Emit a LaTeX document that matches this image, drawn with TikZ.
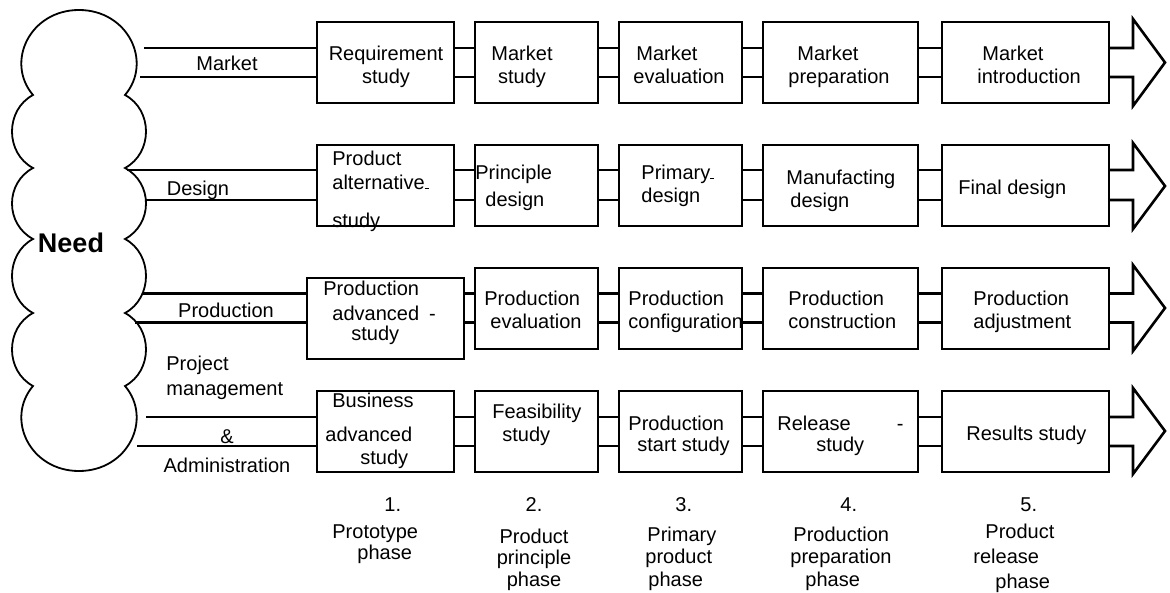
\documentclass[tikz,border=0pt]{standalone}
\usepackage{fontspec}
\setmainfont{Liberation Sans}
\begin{document}
\begin{tikzpicture}[x=0.5pt,y=-0.5pt,line join=miter,
	font=\fontsize{10}{11.5}\selectfont,
	box/.style={draw,line width=0.8pt,inner sep=0pt,minimum height=40.5pt},
	txt/.style={inner sep=0pt,align=left,anchor=north west},
	lbl/.style={inner sep=0pt,align=center,anchor=north},
	bus/.style={line width=1.3pt}]
	\useasboundingbox (0,0) rectangle (1170,593);
	% the cloud
	\draw[line width=0.9pt] (33,95) .. controls (5,62) and (30,10) .. (79,10)
		.. controls (128,10) and (153,62) .. (125,95)
		.. controls (153,110) and (153,153) .. (125,168)
		.. controls (153,183) and (153,224) .. (125,239)
		.. controls (153,254) and (153,298) .. (125,313)
		.. controls (153,328) and (153,371) .. (125,386)
		.. controls (153,419) and (128,471) .. (79,471)
		.. controls (30,471) and (5,419) .. (33,386)
		.. controls (5,371) and (5,328) .. (33,313)
		.. controls (5,298) and (5,254) .. (33,239)
		.. controls (5,224) and (5,183) .. (33,168)
		.. controls (5,153) and (5,110) .. cycle;
	\node[font=\fontsize{13.5}{16}\selectfont\bfseries] (need) at (71,243) {Need};
	% where the double lines leave the cloud
	\coordinate (top1) at (144,48);   \coordinate (bot1) at (140,77);
	\coordinate (top2) at (127,170);  \coordinate (bot2) at (146,200);
	\coordinate (top3) at (142,293.5);\coordinate (bot3) at (135,322.5);
	\coordinate (top4) at (146,417);  \coordinate (bot4) at (137,446);
	% boxes
	\foreach \r/\y in {1/62.5,2/185.5,4/431.5}{
		\node[box,minimum width=68.5pt] (b\r1) at (385.5,\y) {};
		\node[box,minimum width=61.5pt] (b\r2) at (536.5,\y) {};
		\node[box,minimum width=61.5pt] (b\r3) at (680.5,\y) {};
		\node[box,minimum width=77.5pt] (b\r4) at (840.5,\y) {};
		\node[box,minimum width=83.5pt] (b\r5) at (1025.5,\y) {};
	}
	\node[box,minimum width=78.5pt] (b31) at (385.5,318.5) {};
	\node[box,minimum width=61.5pt] (b32) at (536.5,308.5) {};
	\node[box,minimum width=61.5pt] (b33) at (680.5,308.5) {};
	\node[box,minimum width=77.5pt] (b34) at (840.5,308.5) {};
	\node[box,minimum width=83.5pt] (b35) at (1025.5,308.5) {};
	% double lines
	\foreach \r in {1,...,4}{
		\draw[bus] (top\r) -- (b\r1.west |- top\r);
		\draw[bus] (bot\r) -- (b\r1.west |- bot\r);
		\foreach \a/\b in {1/2,2/3,3/4,4/5}{
			\draw[bus] (b\r\a.east |- top\r) -- (b\r\b.west |- top\r);
			\draw[bus] (b\r\a.east |- bot\r) -- (b\r\b.west |- bot\r);
		}
	}
	% arrows at the right
	\foreach \r/\ya/\yb/\yt/\ym/\yh in {1/48/77/19/62.5/106,2/170/200/143/186/229,3/293.5/322.5/265/308/351,4/417/446/388/431/474}
		\draw[bus] (b\r5.east |- top\r) -- (1133,\ya) -- (1133,\yt) -- (1165,\ym) -- (1133,\yh) -- (1133,\yb) -- (b\r5.east |- bot\r);
	% row labels
	\node[lbl] (lmarket) at (227,55.5) {Market};
	\node[lbl] (ldesign) at (198,180.5) {Design};
	\node[lbl] (lprod) at (226,302.5) {Production};
	\node[txt] (lproj) at (166,355.5) {Project\\[1pt]management};
	\node[lbl] (land) at (227,429.5) {\&};
	\node[lbl] (ladmin) at (227,457.5) {Administration};
	% texts in the boxes
	\node[lbl] (t11) at (386,45.5) {Requirement\\study};
	\node[lbl] (t12) at (522,45.5) {Market\\study};
	\node[txt] (t13) at (633,45.5) {\hspace*{1.5pt}Market\\evaluation};
	\node[txt] (t14) at (788,45.5) {\hspace*{4.5pt}Market\\preparation};
	\node[txt] (t15) at (977,45.5) {\hspace*{2.5pt}Market\\introduction};
	\node[txt] (t21) at (332,150.5) {Product\\[0.5pt]alternative\rule{2pt}{0.5pt}\\[7.5pt]study};
	\node[txt] (t22) at (475,164.5) {Principle\\[2pt]\hspace*{5pt}design};
	\node[txt] (t23) at (641,164.5) {Primary\rule{2pt}{0.5pt}\\design};
	\node[txt] (t24) at (786,169.5) {Manufacting\\\hspace*{2pt}design};
	\node[txt] (t25) at (958,179.5) {Final design};
	\node[txt] (t31) at (323,280.5) {Production\\[1pt]\hspace*{4.5pt}advanced\hspace{5pt}-\\[-1.5pt]\hspace*{14pt}study};
	\node[txt] (t32) at (484,290.5) {Production\\\hspace*{3pt}evaluation};
	\node[txt] (t33) at (628,290.5) {Production\\configuration};
	\node[txt] (t34) at (788,290.5) {Production\\construction};
	\node[txt] (t35) at (973,290.5) {Production\\adjustment};
	\node[txt] (t41) at (325,392.5) {\hspace*{3.5pt}Business\\[5.5pt]advanced\\\hspace*{17.5pt}study};
	\node[txt] (t42) at (492,403.5) {Feasibility\\\hspace*{5pt}study};
	\node[txt] (t43) at (628,415.5) {Production\\[-1pt]\hspace*{4.5pt}start study};
	\node[txt] (t44) at (777,415.5) {Release\hspace{23pt}-\\[-1pt]\hspace*{19.5pt}study};
	\node[txt] (t45) at (966,425.5) {Results study};
	% phases
	\node[txt] (p1) at (332,497.5) {\hspace*{26pt}1.\\[2pt]Prototype\\[-1pt]\hspace*{12.5pt}phase};
	\node[lbl] (p2) at (534,497.5) {2.\\[4.5pt]Product\\[-1pt]principle\\[-0.5pt]phase};
	\node[txt] (p3) at (645,497.5) {\hspace*{15pt}3.\\[3.5pt]\hspace*{1pt}Primary\\[-0.5pt]product\\\hspace*{1.5pt}phase};
	\node[txt] (p4) at (790,497.5) {\hspace*{25pt}4.\\[3.5pt]\hspace*{1.5pt}Production\\[-0.5pt]preparation\\\hspace*{7.5pt}phase};
	\node[txt] (p5) at (973,497.5) {\hspace*{23.5pt}5.\\[2pt]\hspace*{6pt}Product\\[1pt]release\\[1pt]\hspace*{11pt}phase};
\end{tikzpicture}
\end{document}
